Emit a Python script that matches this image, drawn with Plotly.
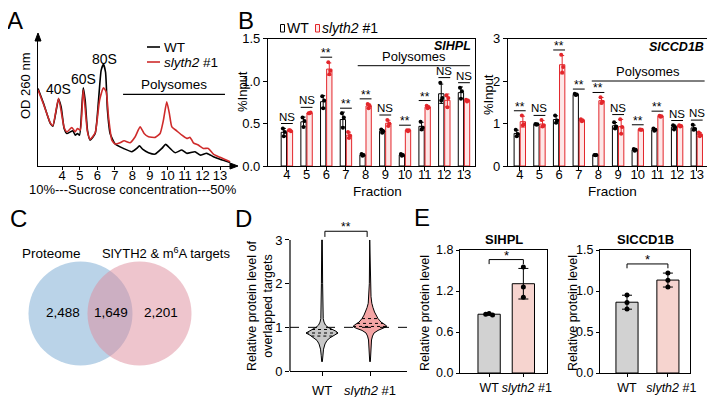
import numpy as np
import plotly.graph_objects as go

# The page body keeps the browser's default 8 px margin, so the figure is drawn 8 px smaller
# and every reference pixel position is shifted by that margin.
OFF = 8
W, H = 715 - OFF, 397 - OFF
FONT = "Liberation Sans, Arial, sans-serif"
RED = "#e3262b"
PROFILE_RED = "#cf2b2b"

# ---------------- Panel A: polysome profile ----------------
profile_ticks = [4, 5, 6, 7, 8, 9, 10, 11, 12, 13]
wt_profile_x = [2.62, 2.94, 3.32, 3.47, 3.66, 3.79, 3.94, 4.11, 4.27, 4.46, 4.61, 4.74, 4.87, 4.99, 5.12,
                5.20, 5.31, 5.44, 5.59, 5.88, 6.07, 6.22, 6.35, 6.47, 6.58, 6.73, 7.02, 7.49, 7.97, 8.25,
                8.40, 8.60, 8.92, 9.30, 9.68, 9.90, 10.15, 10.44, 10.82, 11.10, 11.57, 11.86, 12.24, 12.62,
                13.00, 13.57]
wt_profile_y = [0.617, 0.497, 0.339, 0.317, 0.444, 0.534, 0.471, 0.299, 0.259, 0.272, 0.280, 0.246, 0.259,
                0.246, 0.471, 0.624, 0.524, 0.286, 0.206, 0.259, 0.524, 0.762, 0.810, 0.749, 0.444, 0.259,
                0.175, 0.140, 0.114, 0.140, 0.161, 0.132, 0.106, 0.095, 0.140, 0.172, 0.140, 0.106, 0.127,
                0.101, 0.114, 0.087, 0.101, 0.074, 0.053, 0.029]
mut_profile_x = [2.62, 2.94, 3.32, 3.47, 3.79, 4.11, 4.27, 4.55, 4.74, 4.87, 5.03, 5.20, 5.44, 5.59, 5.88,
                 6.13, 6.35, 6.51, 6.64, 6.83, 7.02, 7.30, 7.53, 7.87, 8.16, 8.44, 8.67, 8.92, 9.30, 9.58,
                 9.77, 9.96, 10.11, 10.25, 10.53, 10.82, 11.10, 11.29, 11.48, 11.76, 12.05, 12.33, 12.62,
                 13.00, 13.57]
mut_profile_y = [0.608, 0.490, 0.344, 0.323, 0.540, 0.307, 0.272, 0.307, 0.272, 0.299, 0.286, 0.608, 0.272,
                 0.212, 0.265, 0.524, 0.624, 0.590, 0.392, 0.206, 0.175, 0.185, 0.201, 0.185, 0.233, 0.312,
                 0.259, 0.233, 0.228, 0.259, 0.365, 0.511, 0.418, 0.312, 0.280, 0.246, 0.220, 0.228, 0.185,
                 0.167, 0.140, 0.140, 0.095, 0.069, 0.034]
peak_names = ["40S", "60S", "80S"]
peak_positions = [3.79, 5.20, 6.40]
polysome_span_A = [7.47, 13.28]
polysome_level_A = 0.571

# ---------------- Panel B: %Input per fraction ----------------
fractions = [4, 5, 6, 7, 8, 9, 10, 11, 12, 13]
hpl_wt = [[0.44, 0.40, 0.35], [0.57, 0.53, 0.46], [0.82, 0.77, 0.68], [0.62, 0.57, 0.45], [0.14, 0.13, 0.12],
          [0.43, 0.41, 0.39], [0.14, 0.13, 0.12], [0.52, 0.45, 0.43], [0.98, 0.80, 0.77], [0.92, 0.88, 0.79]]
hpl_mut = [[0.42, 0.41, 0.42], [0.62, 0.63, 0.62], [1.22, 1.12, 1.08], [0.40, 0.36, 0.33], [0.73, 0.71, 0.68],
           [0.54, 0.50, 0.47], [0.42, 0.42, 0.41], [0.71, 0.69, 0.68], [0.83, 0.80, 0.69], [0.78, 0.77, 0.76]]
hpl_sig = ["NS", "NS", "**", "**", "**", "NS", "**", "**", "NS", "NS"]
ccd_wt = [[0.85, 0.75, 0.70], [0.99, 0.98, 0.97], [1.19, 1.07, 1.02], [1.70, 1.68, 1.67], [0.26, 0.26, 0.25],
          [1.03, 0.93, 0.88], [0.40, 0.38, 0.36], [0.88, 0.85, 0.83], [0.96, 0.92, 0.86], [0.97, 0.87, 0.85]]
ccd_mut = [[1.19, 0.98, 0.96], [1.08, 0.95, 0.93], [2.62, 2.33, 2.20], [1.10, 1.07, 1.05], [1.62, 1.51, 1.48],
           [1.10, 0.92, 0.76], [0.86, 0.85, 0.85], [1.18, 1.17, 1.16], [0.96, 0.94, 0.93], [0.79, 0.73, 0.70]]
ccd_sig = ["**", "NS", "**", "**", "**", "NS", "**", "**", "NS", "NS"]

# ---------------- Panel C: Venn ----------------
venn_sets = ["Proteome", "SlYTH2 & m<sup>6</sup>A targets"]
venn_counts = [2488, 1649, 2201]

# ---------------- Panel D: violin density profiles ----------------
violin_groups = ["WT", "<i>slyth2</i> #1"]
wt_violin_y = [0.21, 0.35, 0.50, 0.62, 0.70, 0.76, 0.82, 0.87, 0.91, 0.96, 1.00, 1.05, 1.12, 1.20, 1.50, 2.00, 3.00]
wt_violin_w = [0.3, 0.8, 1.5, 3, 5, 8, 12, 16, 14, 9, 6, 3.5, 2, 1.2, 0.8, 0.6, 0.3]
mut_violin_y = [0.21, 0.50, 0.71, 0.80, 0.87, 0.93, 0.98, 1.02, 1.06, 1.12, 1.20, 1.28, 1.35, 1.45, 1.55, 1.70,
                2.00, 3.00]
mut_violin_w = [0.3, 0.8, 1.5, 2.5, 4, 8, 14, 17, 15, 11, 8, 6, 4.5, 3, 1.8, 1.0, 0.7, 0.3]
wt_quartiles = [0.80, 0.87, 0.95]
mut_quartiles = [1.02, 1.09, 1.20]

# ---------------- Panel E: protein levels ----------------
e_groups = ["WT", "&nbsp;&nbsp;<i>slyth2</i> #1"]
hpl_protein = [[0.86, 0.87, 0.85], [1.55, 1.26, 1.11]]
ccd_protein = [[0.95, 0.86, 0.78], [1.22, 1.13, 1.05]]


def PX(x):
    return (x - OFF) / W


def PY(y):
    return 1 - (y - OFF) / H


fig = go.Figure()
shapes = []
annotations = []


def text(x, y, s, size=13, xanchor="center", yanchor="middle", angle=0, ref=("paper", "paper"), **kw):
    annotations.append(dict(x=x, y=y, text=s, showarrow=False, xref=ref[0], yref=ref[1],
                            xanchor=xanchor, yanchor=yanchor, textangle=angle,
                            font=dict(family=FONT, size=size, color="black"), **kw))


# ---- Panel A traces ----
fig.add_trace(go.Scatter(x=wt_profile_x, y=wt_profile_y, mode="lines", xaxis="x", yaxis="y",
                         line=dict(color="black", width=1.6, shape="spline", smoothing=0.5), showlegend=False))
fig.add_trace(go.Scatter(x=mut_profile_x, y=mut_profile_y, mode="lines", xaxis="x", yaxis="y",
                         line=dict(color=PROFILE_RED, width=1.6, shape="spline", smoothing=0.5), showlegend=False))
for name, pos in zip(peak_names, peak_positions):
    top = max(np.interp(pos, wt_profile_x, wt_profile_y), np.interp(pos, mut_profile_x, mut_profile_y))
    text(pos, top, name, size=14, yanchor="bottom", ref=("x", "y"), yshift=-1)
shapes.append(dict(type="line", xref="x", yref="y", x0=polysome_span_A[0], x1=polysome_span_A[1],
                   y0=polysome_level_A, y1=polysome_level_A, line=dict(color="black", width=1.2)))
text(sum(polysome_span_A) / 2, polysome_level_A, "Polysomes", size=13.5, yanchor="bottom", ref=("x", "y"), yshift=0)
# legend A
shapes.append(dict(type="line", xref="paper", yref="paper", x0=PX(147), x1=PX(160), y0=PY(47), y1=PY(47),
                   line=dict(color="black", width=1.6)))
shapes.append(dict(type="line", xref="paper", yref="paper", x0=PX(147), x1=PX(160), y0=PY(62), y1=PY(62),
                   line=dict(color=PROFILE_RED, width=1.6)))
text(PX(162), PY(47), "WT", size=13.5, xanchor="left")
text(PX(162), PY(62), "<i>slyth2</i> #1", size=13.5, xanchor="left")
# axis arrowheads
shapes.append(dict(type="path", xref="paper", yref="paper",
                   path=f"M {PX(38)},{PY(33)} L {PX(35)},{PY(41)} L {PX(41)},{PY(41)} Z",
                   fillcolor="black", line=dict(color="black", width=1)))
shapes.append(dict(type="path", xref="paper", yref="paper",
                   path=f"M {PX(238)},{PY(166)} L {PX(230)},{PY(163)} L {PX(230)},{PY(169)} Z",
                   fillcolor="black", line=dict(color="black", width=1)))
text(PX(25), PY(86), "OD 260 nm", size=13, angle=-90)
text(PX(133), PY(190), "10%---Sucrose concentration---50%", size=13)
text(PX(15), PY(21), "A", size=24)


# ---- Panel B ----
def bar_panel(xa, ya, wt_reps, mut_reps, sig, sig_off, gene, gene_y, poly_span, poly_y):
    wt_mean = [float(np.mean(r)) for r in wt_reps]
    wt_sd = [float(np.std(r, ddof=1)) for r in wt_reps]
    mut_mean = [float(np.mean(r)) for r in mut_reps]
    mut_sd = [float(np.std(r, ddof=1)) for r in mut_reps]
    x_wt = [f - 0.155 for f in fractions]
    x_mut = [f + 0.155 for f in fractions]
    fig.add_trace(go.Bar(x=x_wt, y=wt_mean, width=0.27, xaxis=xa, yaxis=ya, showlegend=False,
                         marker=dict(color="white", line=dict(color="black", width=1)),
                         error_y=dict(type="data", array=wt_sd, color="black", thickness=1, width=2)))
    fig.add_trace(go.Bar(x=x_mut, y=mut_mean, width=0.27, xaxis=xa, yaxis=ya, showlegend=False,
                         marker=dict(color="#fde7e7", line=dict(color=RED, width=1)),
                         error_y=dict(type="data", array=mut_sd, color=RED, thickness=1, width=2)))
    jit = [-0.05, 0.05, 0.0]
    fig.add_trace(go.Scatter(x=[x + j for x, r in zip(x_wt, wt_reps) for j in jit[:len(r)]],
                             y=[v for r in wt_reps for v in r], mode="markers", xaxis=xa, yaxis=ya,
                             marker=dict(color="black", size=4), showlegend=False))
    fig.add_trace(go.Scatter(x=[x + j for x, r in zip(x_mut, mut_reps) for j in jit[:len(r)]],
                             y=[v for r in mut_reps for v in r], mode="markers", xaxis=xa, yaxis=ya,
                             marker=dict(color=RED, size=4), showlegend=False))
    for f, w, m, s in zip(fractions, wt_reps, mut_reps, sig):
        yl = max(max(w), max(m)) + sig_off
        shapes.append(dict(type="line", xref=xa, yref=ya, x0=f - 0.3, x1=f + 0.3, y0=yl, y1=yl,
                           line=dict(color="black", width=1)))
        text(f, yl, s, size=11.5 if s == "NS" else 12, yanchor="bottom", ref=(xa, ya),
             yshift=-1 if s == "NS" else -5)
    shapes.append(dict(type="line", xref=xa, yref=ya, x0=poly_span[0], x1=poly_span[1], y0=poly_y, y1=poly_y,
                       line=dict(color="black", width=1)))
    text(sum(poly_span) / 2, poly_y, "Polysomes", size=13, yanchor="bottom", ref=(xa, ya))
    text(13.45, gene_y, "<b><i>%s</i></b>" % gene, size=12.5, xanchor="right", ref=(xa, ya))


bar_panel("x2", "y2", hpl_wt, hpl_mut, hpl_sig, 0.06, "SlHPL", 1.41, [7.6, 13.3], 1.18)
bar_panel("x3", "y3", ccd_wt, ccd_mut, ccd_sig, 0.11, "SlCCD1B", 2.8, [7.66, 13.4], 2.0)
text(PX(242), PY(92), "%Input", size=13, angle=-90)
text(PX(488), PY(95), "%Input", size=13, angle=-90)
text(PX(377), PY(191), "Fraction", size=13.5)
text(PX(612), PY(191), "Fraction", size=13.5)
text(PX(246), PY(21), "B", size=24)
# legend B
shapes.append(dict(type="rect", xref="paper", yref="paper", x0=PX(280.5), x1=PX(284.5), y0=PY(32), y1=PY(24.5),
                   line=dict(color="black", width=1), fillcolor="white"))
shapes.append(dict(type="rect", xref="paper", yref="paper", x0=PX(315.5), x1=PX(319.5), y0=PY(32), y1=PY(24.5),
                   line=dict(color=RED, width=1), fillcolor="#fde7e7"))
text(PX(285), PY(28), "WT", size=14, xanchor="left")
text(PX(320), PY(28), "<i>slyth2</i> #1", size=14, xanchor="left")

# ---- Panel C: Venn ----
shapes.append(dict(type="circle", xref="paper", yref="paper", x0=PX(28.5), x1=PX(132.5), y0=PY(365.5),
                   y1=PY(261.5), fillcolor="#bad3e8", line=dict(width=0), layer="below"))
shapes.append(dict(type="circle", xref="paper", yref="paper", x0=PX(87.5), x1=PX(191.5), y0=PY(365.5),
                   y1=PY(261.5), fillcolor="#dd8b9b", opacity=0.5, line=dict(width=0), layer="below"))
text(PX(51), PY(253), venn_sets[0], size=13.5)
text(PX(166), PY(253), venn_sets[1], size=13)
for xc, c in zip([63, 111, 161], venn_counts):
    text(PX(xc), PY(312), f"{c:,}", size=13.5)
text(PX(18), PY(218), "C", size=24)

# ---- Panel D: violins ----
VSCALE = 1 / 48.0
for ci, (vy, vw, q, fill) in enumerate([(wt_violin_y, wt_violin_w, wt_quartiles, "#c8c8c8"),
                                         (mut_violin_y, mut_violin_w, mut_quartiles, "#f4a5a5")]):
    c = ci + 1
    hw = [w * VSCALE for w in vw]
    xs = [c + h for h in hw] + [c - h for h in hw[::-1]]
    ys = list(vy) + list(vy[::-1])
    fig.add_trace(go.Scatter(x=xs, y=ys, mode="lines", fill="toself", fillcolor=fill, xaxis="x5", yaxis="y5",
                             line=dict(color="black", width=1), showlegend=False))
    qx, qy = [], []
    for qq in q:
        h = float(np.interp(qq, vy, vw)) * VSCALE
        qx += [c - h, c + h, None]
        qy += [qq, qq, None]
    fig.add_trace(go.Scatter(x=qx, y=qy, mode="lines", xaxis="x5", yaxis="y5",
                             line=dict(color="black", width=1, dash="dot"), showlegend=False))
shapes.append(dict(type="line", xref="x5 domain", yref="y5", x0=0, x1=1, y0=1, y1=1,
                   line=dict(color="black", width=1, dash="dash")))
shapes.append(dict(type="line", xref="x5 domain", yref="y5", x0=0, x1=0, y0=0, y1=3,
                   line=dict(color="black", width=1.2)))
shapes.append(dict(type="path", xref="x5", yref="y5", path="M 1.06,3.07 L 1.06,3.2 L 1.94,3.2 L 1.94,3.07",
                   line=dict(color="black", width=1)))
text(1.5, 3.2, "**", size=12, yanchor="bottom", ref=("x5", "y5"), yshift=-5)
text(PX(260), PY(306), "Relative protein level of<br>overlapped targets", size=12.5, angle=-90)
text(PX(243), PY(218), "D", size=24)


# ---- Panel E ----
def e_panel(xa, ya, reps, width, sig_y, title, jitters):
    means = [float(np.mean(r)) for r in reps]
    sds = [float(np.std(r, ddof=1)) for r in reps]
    fig.add_trace(go.Bar(x=[0, 1], y=means, width=width, xaxis=xa, yaxis=ya, showlegend=False,
                         marker=dict(color=["#d2d2d2", "#f6d4cf"], line=dict(color="black", width=1)),
                         error_y=dict(type="data", array=sds, color="black", thickness=1, width=5)))
    fig.add_trace(go.Scatter(x=[i + j for i, r in enumerate(reps) for j in jitters[i]],
                             y=[v for r in reps for v in r], mode="markers", xaxis=xa, yaxis=ya,
                             marker=dict(color="black", size=5), showlegend=False))
    shapes.append(dict(type="path", xref=xa, yref=ya,
                       path=f"M 0,{sig_y - 0.04 * sig_y} L 0,{sig_y} L 1,{sig_y} L 1,{sig_y - 0.04 * sig_y}",
                       line=dict(color="black", width=1)))
    text(0.5, sig_y, "*", size=13, yanchor="bottom", ref=(xa, ya), yshift=-5)
    text(0.5, 1.0, "<b>%s</b>" % title, size=13, yanchor="bottom", ref=(xa + " domain", ya + " domain"), yshift=1)


e_panel("x6", "y6", hpl_protein, 0.65, 1.66, "SlHPL", [[-0.1, 0.0, 0.1], [0, 0, 0]])
e_panel("x7", "y7", ccd_protein, 0.54, 1.33, "SlCCD1B", [[0, 0, 0], [0, 0, 0]])
text(PX(425), PY(313), "Relative protein level", size=12.5, angle=-90)
text(PX(573), PY(313), "Relative protein level", size=12.5, angle=-90)
text(PX(422), PY(217), "E", size=24)

# ---------------- axes ----------------
tickfont = dict(family=FONT, size=13, color="black")
common = dict(showgrid=False, zeroline=False, showline=True, linecolor="black", linewidth=1.2,
              ticks="outside", ticklen=4, tickwidth=1, tickcolor="black", tickfont=tickfont,
              automargin=False, tickangle=0)
small = dict(common, tickfont=dict(family=FONT, size=12.5, color="black"), ticklen=3)
lowx = dict(common, ticklabelstandoff=-8)

layout_axes = dict(
    xaxis=dict(domain=[PX(38), PX(232)], range=[2.62, 13.68], anchor="y", tickvals=profile_ticks,
               **dict(common, ticklen=3, ticklabelstandoff=-6)),
    yaxis=dict(domain=[PY(166), PY(38)], range=[0, 1.02], anchor="x", showgrid=False, zeroline=False,
               showline=True, linecolor="black", linewidth=1.2, showticklabels=False, ticks="",
               automargin=False),
    xaxis2=dict(domain=[PX(268), PX(475)], range=[3.04, 13.56], anchor="y2", tickvals=fractions, mirror=True, **lowx),
    yaxis2=dict(domain=[PY(166), PY(38.5)], range=[0, 1.5], anchor="x2", tickvals=[0, 0.5, 1.0, 1.5],
                tickformat=".1f", mirror=True, **common),
    xaxis3=dict(domain=[PX(508), PX(707)], range=[3.4, 13.52], anchor="y3", tickvals=fractions, mirror=True, **lowx),
    yaxis3=dict(domain=[PY(166), PY(38.5)], range=[0, 3], anchor="x3", tickvals=[0, 1, 2, 3], mirror=True, **common),
    xaxis5=dict(domain=[PX(290), PX(407)], range=[0.333, 2.77], anchor="y5", tickvals=[1, 2],
                ticktext=violin_groups, **dict(common, ticklabelstandoff=3)),
    yaxis5=dict(domain=[PY(371), PY(224.7)], range=[0, 3.35], anchor="x5", tickvals=[0, 1, 2, 3],
                **dict(common, showline=False)),
    xaxis6=dict(domain=[PX(460), PX(547)], range=[-0.85, 1.69], anchor="y6", tickvals=[0, 1], ticktext=e_groups,
                mirror=True, **small),
    yaxis6=dict(domain=[PY(373), PY(250)], range=[0, 1.8], anchor="x6", tickvals=[0, 0.6, 1.2, 1.8],
                tickformat=".1f", mirror=True, **small),
    xaxis7=dict(domain=[PX(600), PX(690)], range=[-0.66, 1.54], anchor="y7", tickvals=[0, 1], ticktext=e_groups,
                mirror=True, **small),
    yaxis7=dict(domain=[PY(373), PY(250)], range=[0, 1.5], anchor="x7", tickvals=[0, 0.5, 1.0, 1.5],
                tickformat=".1f", mirror=True, **small),
)

fig.update_layout(
    template="none",
    width=W, height=H, autosize=False,
    margin=dict(l=0, r=0, t=0, b=0, pad=0),
    paper_bgcolor="white", plot_bgcolor="rgba(0,0,0,0)",
    barmode="overlay", showlegend=False,
    font=dict(family=FONT, size=13, color="black"),
    shapes=shapes, annotations=annotations,
    **layout_axes,
)

fig.write_html("out.html")
